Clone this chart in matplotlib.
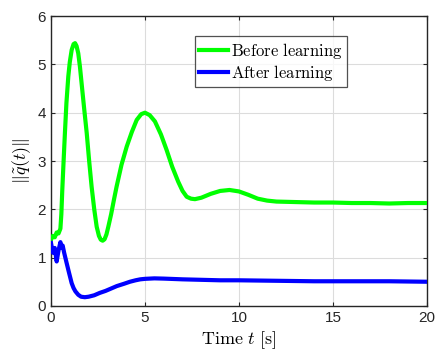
import matplotlib
matplotlib.use("Agg")
import matplotlib.pyplot as plt

plt.rcParams['mathtext.fontset'] = 'cm'
plt.rcParams['font.family'] = ['Liberation Sans', 'DejaVu Sans']

# Before learning (green)
t_before = [0, 0.1, 0.2, 0.3, 0.4, 0.5, 0.55, 0.6, 0.67, 0.74, 0.82, 0.92, 1.0, 1.1,
            1.2, 1.28, 1.36, 1.45, 1.54, 1.63, 1.76, 1.9, 2.03, 2.16, 2.3, 2.43,
            2.55, 2.65, 2.75, 2.85, 2.95, 3.05, 3.2, 3.35, 3.49, 3.75, 4.03, 4.3,
            4.56, 4.8, 5.0, 5.25, 5.53, 5.85, 6.15, 6.45, 6.77, 7.0, 7.22, 7.45,
            7.66, 8.0, 8.5, 9.0, 9.5, 10.0, 10.5, 11.0, 11.5, 12, 13, 14, 15, 16,
            17, 18, 19, 20]
y_before = [1.37, 1.45, 1.42, 1.52, 1.5, 1.6, 1.9, 2.4, 3.0, 3.58, 4.2, 4.75, 5.05, 5.3,
            5.42, 5.44, 5.38, 5.23, 4.95, 4.6, 4.1, 3.58, 3.0, 2.47, 2.0, 1.64,
            1.45, 1.37, 1.35, 1.38, 1.48, 1.64, 1.9, 2.2, 2.47, 2.92, 3.30, 3.6,
            3.85, 3.97, 4.0, 3.95, 3.82, 3.55, 3.23, 2.88, 2.57, 2.38, 2.26, 2.22,
            2.21, 2.24, 2.32, 2.38, 2.40, 2.37, 2.30, 2.22, 2.18, 2.16, 2.15, 2.14,
            2.14, 2.13, 2.13, 2.12, 2.13, 2.13]

# After learning (blue)
t_after = [0, 0.1, 0.2, 0.3, 0.4, 0.5, 0.55, 0.62, 0.7, 0.83, 0.95, 1.1, 1.2, 1.3,
           1.45, 1.6, 1.8, 2.0, 2.3, 2.6, 2.9, 3.2, 3.5, 3.9, 4.2, 4.5, 4.75, 5.0,
           5.5, 6, 7, 8, 9, 10, 12, 14, 16, 18, 20]
y_after = [1.30, 1.1, 1.2, 0.92, 1.15, 1.32, 1.2, 1.25, 1.1, 0.89, 0.7, 0.47, 0.37, 0.3,
           0.23, 0.19, 0.18, 0.19, 0.22, 0.27, 0.31, 0.36, 0.41, 0.46, 0.5, 0.53,
           0.55, 0.56, 0.57, 0.565, 0.55, 0.54, 0.53, 0.53, 0.52, 0.51, 0.51, 0.51,
           0.50]

labels = [r'$\mathrm{Before\ learning}$', r'$\mathrm{After\ learning}$']
xticks = [0, 5, 10, 15, 20]
yticks = [0, 1, 2, 3, 4, 5, 6]

fig = plt.figure(figsize=(4.36, 3.5), dpi=100)
ax = fig.add_axes([0.117, 0.126, 0.862, 0.828])
ax.plot(t_before, y_before, color='#00ff00', lw=3.0, label=labels[0], zorder=3,
        solid_joinstyle='round')
ax.plot(t_after, y_after, color='#0000ff', lw=3.0, label=labels[1], zorder=3,
        solid_joinstyle='round')

ax.set_xlim(0, 20)
ax.set_ylim(0, 6)
ax.set_xticks(xticks)
ax.set_yticks(yticks)
ax.grid(True, color='#dcdcdc', lw=0.8)
ax.set_axisbelow(True)
for s in ax.spines.values():
    s.set_color('#262626')
    s.set_linewidth(1.0)
ax.tick_params(direction='in', length=3, width=0.8, colors='#262626',
               labelsize=11, top=True, right=True, labelcolor='#262626')
ax.set_xlabel(r'$\mathrm{Time}\ t\ [\mathrm{s}]$', fontsize=13, labelpad=3)
ax.set_ylabel(r'$\|\tilde{q}(t)\|$', fontsize=13, labelpad=3)

leg = ax.legend(loc='upper center', bbox_to_anchor=(0.585, 0.93), fontsize=12,
                frameon=True, fancybox=False, edgecolor='#262626',
                handlelength=1.7, handletextpad=0.2, borderpad=0.25,
                labelspacing=0.15, borderaxespad=0)
leg.get_frame().set_linewidth(0.9)

fig.savefig('out.png', dpi=100)
